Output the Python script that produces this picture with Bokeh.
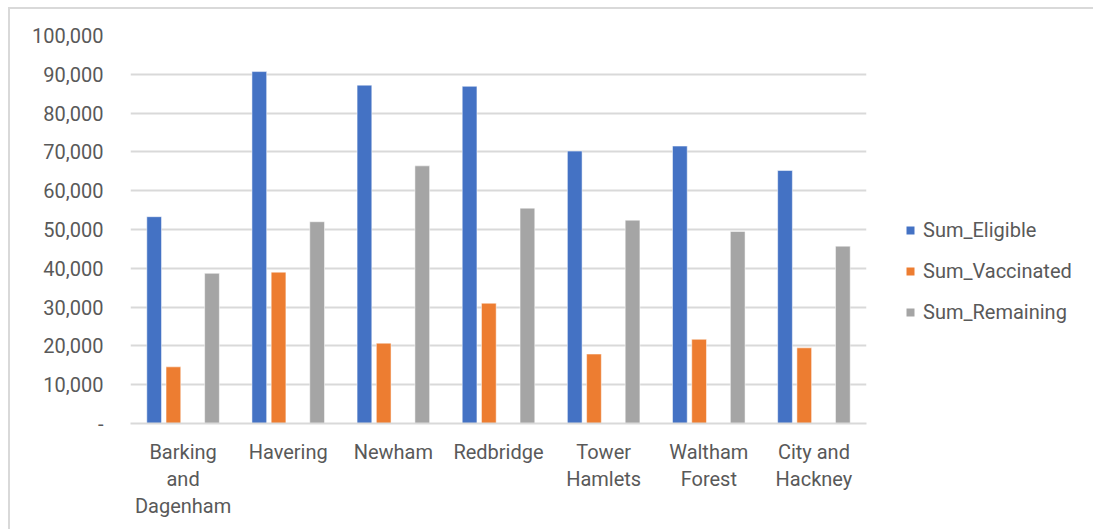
from bokeh.plotting import figure
from bokeh.models import FactorRange, Legend, LegendItem, NumeralTickFormatter, FixedTicker
from bokeh.models import ColumnDataSource
from bokeh.transform import dodge
from bokeh.layouts import row
from bokeh.embed import file_html
from bokeh.resources import INLINE

categories = ["Barking\nand\nDagenham", "Havering", "Newham", "Redbridge",
              "Tower\nHamlets", "Waltham\nForest", "City and\nHackney"]
sum_eligible = [53300, 90700, 87200, 86900, 70200, 71500, 65200]
sum_vaccinated = [14600, 39000, 20700, 31000, 17900, 21700, 19500]
sum_remaining = [38700, 52000, 66400, 55500, 52400, 49500, 45700]
series_names = ["Sum_Eligible", "Sum_Vaccinated", "Sum_Remaining"]
series_colors = ["#4472C4", "#ED7D31", "#A5A5A5"]
y_ticks = [0, 10000, 20000, 30000, 40000, 50000, 60000, 70000, 80000, 90000, 100000]

src = ColumnDataSource(dict(cat=categories, elig=sum_eligible,
                            vacc=sum_vaccinated, rem=sum_remaining))

W, H = 875, 521
p = figure(x_range=FactorRange(*categories), y_range=(0, 100000),
           width=W, height=H, output_backend="svg", toolbar_location=None,
           min_border_left=120, min_border_right=W - 856,
           min_border_top=26, min_border_bottom=H - 414)
p.x_range.range_padding = 0
p.outline_line_color = None
p.background_fill_color = "white"
p.border_fill_color = "white"

bw = 0.14
offsets = [-0.275, -0.092, 0.275]
cols = ["elig", "vacc", "rem"]
for off, col, color in zip(offsets, cols, series_colors):
    p.vbar(x=dodge("cat", off, range=p.x_range), top=col, width=bw,
           source=src, fill_color=color, line_color="white", line_width=0.5)

p.xgrid.grid_line_color = None
p.ygrid.grid_line_color = "#D9D9D9"
p.ygrid.grid_line_width = 2
p.yaxis.ticker = FixedTicker(ticks=y_ticks)

p.yaxis.axis_line_color = None
p.yaxis.major_tick_line_color = None
p.yaxis.minor_tick_line_color = None
p.yaxis.formatter = NumeralTickFormatter(format="0,0")
p.yaxis.major_label_overrides = {0: "-"}
p.yaxis.major_label_standoff = 21
p.yaxis.major_label_text_font = "Roboto"
p.yaxis.major_label_text_font_size = "20px"
p.yaxis.major_label_text_color = "#595959"

p.xaxis.axis_line_color = "#D9D9D9"
p.xaxis.axis_line_width = 2
p.xaxis.major_tick_line_color = None
p.xaxis.minor_tick_line_color = None
p.xaxis.major_label_standoff = 10
p.xaxis.major_label_text_font = "Roboto"
p.xaxis.major_label_text_font_size = "20px"
p.xaxis.major_label_text_color = "#595959"
p.xaxis.major_label_text_line_height = 1.14

# legend panel
LW = 1083 - W
q = figure(width=LW, height=H, output_backend="svg", toolbar_location=None,
           x_range=(0, 1), y_range=(0, 1), x_axis_type=None, y_axis_type=None,
           min_border=0, min_border_left=0, min_border_right=0,
           min_border_top=0, min_border_bottom=0)
q.outline_line_color = None
q.xgrid.grid_line_color = None
q.ygrid.grid_line_color = None
items = []
for name, color in zip(series_names, series_colors):
    r = q.vbar(x=[0.5], top=[0], bottom=[0], width=0, fill_color=color, line_color=None)
    items.append(LegendItem(label=name, renderers=[r]))
legend = Legend(items=items, location=(20, 99), orientation="vertical",
                border_line_color=None, background_fill_alpha=0,
                padding=0, margin=0, spacing=17,
                glyph_width=10, glyph_height=10, label_standoff=8,
                label_text_font="Roboto", label_text_font_size="20px",
                label_text_color="#595959", label_height=23)
q.add_layout(legend, "center")

layout = row(p, q)
layout.styles = {"border-top": "2px solid #d9d9d9", "border-left": "2px solid #d9d9d9",
                 "margin-left": "8px", "margin-top": "7px"}

open("out.html", "w").write(file_html(layout, INLINE))
